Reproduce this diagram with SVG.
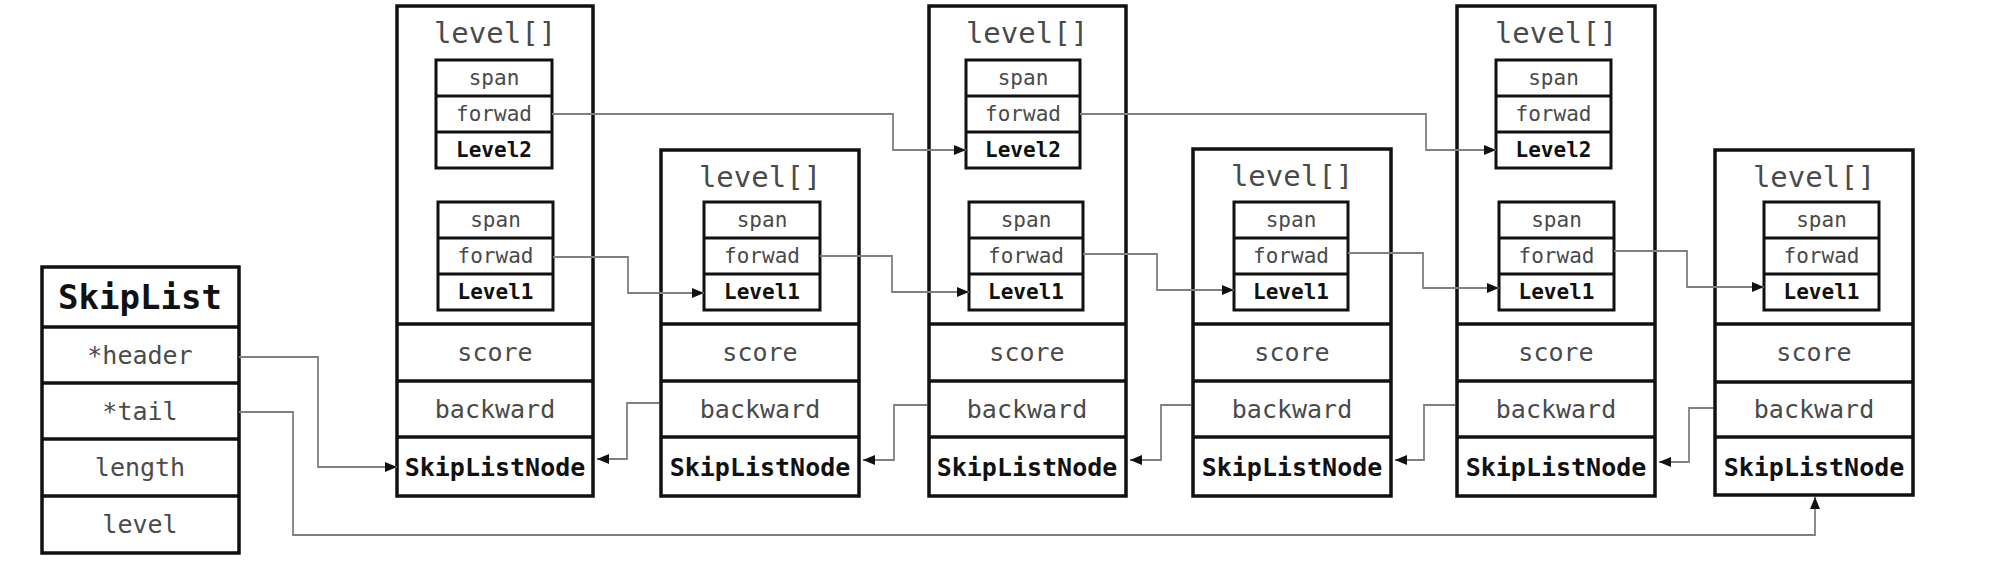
<svg xmlns="http://www.w3.org/2000/svg" width="1989" height="566" viewBox="0 0 1989 566">
<defs>
<style>
.box{fill:#fff;stroke:#111;stroke-width:3.5}
.ln{stroke:#111;stroke-width:3.5}
.ib{fill:none;stroke:#111;stroke-width:3}
.il{stroke:#111;stroke-width:3}
.t{font-family:"DejaVu Sans Mono","Liberation Mono",monospace;fill:#4a4a4a;text-anchor:middle}
.b{font-family:"DejaVu Sans Mono","Liberation Mono",monospace;fill:#111;font-weight:bold;text-anchor:middle}
.lv{font-size:29px}
.row{font-size:25px}
.sm{font-size:21px}
.title{font-size:34px}
.c{fill:none;stroke:#808080;stroke-width:1.8}
</style>
<marker id="ah" viewBox="0 0 12 10" markerWidth="12" markerHeight="10" refX="12" refY="5" orient="auto" markerUnits="userSpaceOnUse">
<path d="M0,0 L12,5 L0,10 z" fill="#111"/>
</marker>
</defs>
<rect width="1989" height="566" fill="#fff"/>

<g id="skiplist">
<rect class="box" x="42" y="267" width="197" height="286"/>
<line class="ln" x1="42" y1="327" x2="239" y2="327"/>
<line class="ln" x1="42" y1="383" x2="239" y2="383"/>
<line class="ln" x1="42" y1="439" x2="239" y2="439"/>
<line class="ln" x1="42" y1="496" x2="239" y2="496"/>
<text class="b title" x="140" y="309">SkipList</text>
<text class="t row" x="140" y="364">*header</text>
<text class="t row" x="140" y="420">*tail</text>
<text class="t row" x="140" y="476">length</text>
<text class="t row" x="140" y="533">level</text>
</g>

<g id="node1">
<rect class="box" x="397" y="6" width="196" height="490"/>
<line class="ln" x1="397" y1="324" x2="593" y2="324"/>
<line class="ln" x1="397" y1="381" x2="593" y2="381"/>
<line class="ln" x1="397" y1="437" x2="593" y2="437"/>
<text class="t lv" x="495" y="43">level[]</text>
<rect class="ib" x="436" y="60" width="116" height="108"/>
<line class="il" x1="436" y1="96" x2="552" y2="96"/>
<line class="il" x1="436" y1="132" x2="552" y2="132"/>
<text class="t sm" x="494" y="85">span</text>
<text class="t sm" x="494" y="121">forwad</text>
<text class="b sm" x="494" y="157">Level2</text>
<rect class="ib" x="438" y="202" width="115" height="108"/>
<line class="il" x1="438" y1="238" x2="553" y2="238"/>
<line class="il" x1="438" y1="274" x2="553" y2="274"/>
<text class="t sm" x="495.5" y="227">span</text>
<text class="t sm" x="495.5" y="263">forwad</text>
<text class="b sm" x="495.5" y="299">Level1</text>
<text class="t row" x="495" y="361">score</text>
<text class="t row" x="495" y="418">backward</text>
<text class="b row" x="495" y="476">SkipListNode</text>
</g>

<g id="node2">
<rect class="box" x="661" y="150" width="198" height="346"/>
<line class="ln" x1="661" y1="324" x2="859" y2="324"/>
<line class="ln" x1="661" y1="381" x2="859" y2="381"/>
<line class="ln" x1="661" y1="437" x2="859" y2="437"/>
<text class="t lv" x="760" y="187">level[]</text>
<rect class="ib" x="704" y="202" width="116" height="108"/>
<line class="il" x1="704" y1="238" x2="820" y2="238"/>
<line class="il" x1="704" y1="274" x2="820" y2="274"/>
<text class="t sm" x="762" y="227">span</text>
<text class="t sm" x="762" y="263">forwad</text>
<text class="b sm" x="762" y="299">Level1</text>
<text class="t row" x="760" y="361">score</text>
<text class="t row" x="760" y="418">backward</text>
<text class="b row" x="760" y="476">SkipListNode</text>
</g>

<g id="node3">
<rect class="box" x="929" y="6" width="197" height="490"/>
<line class="ln" x1="929" y1="324" x2="1126" y2="324"/>
<line class="ln" x1="929" y1="381" x2="1126" y2="381"/>
<line class="ln" x1="929" y1="437" x2="1126" y2="437"/>
<text class="t lv" x="1027" y="43">level[]</text>
<rect class="ib" x="966" y="60" width="114" height="108"/>
<line class="il" x1="966" y1="96" x2="1080" y2="96"/>
<line class="il" x1="966" y1="132" x2="1080" y2="132"/>
<text class="t sm" x="1023" y="85">span</text>
<text class="t sm" x="1023" y="121">forwad</text>
<text class="b sm" x="1023" y="157">Level2</text>
<rect class="ib" x="969" y="202" width="114" height="108"/>
<line class="il" x1="969" y1="238" x2="1083" y2="238"/>
<line class="il" x1="969" y1="274" x2="1083" y2="274"/>
<text class="t sm" x="1026" y="227">span</text>
<text class="t sm" x="1026" y="263">forwad</text>
<text class="b sm" x="1026" y="299">Level1</text>
<text class="t row" x="1027" y="361">score</text>
<text class="t row" x="1027" y="418">backward</text>
<text class="b row" x="1027" y="476">SkipListNode</text>
</g>

<g id="node4">
<rect class="box" x="1193" y="149" width="198" height="347"/>
<line class="ln" x1="1193" y1="324" x2="1391" y2="324"/>
<line class="ln" x1="1193" y1="381" x2="1391" y2="381"/>
<line class="ln" x1="1193" y1="437" x2="1391" y2="437"/>
<text class="t lv" x="1292" y="186">level[]</text>
<rect class="ib" x="1234" y="202" width="114" height="108"/>
<line class="il" x1="1234" y1="238" x2="1348" y2="238"/>
<line class="il" x1="1234" y1="274" x2="1348" y2="274"/>
<text class="t sm" x="1291" y="227">span</text>
<text class="t sm" x="1291" y="263">forwad</text>
<text class="b sm" x="1291" y="299">Level1</text>
<text class="t row" x="1292" y="361">score</text>
<text class="t row" x="1292" y="418">backward</text>
<text class="b row" x="1292" y="476">SkipListNode</text>
</g>

<g id="node5">
<rect class="box" x="1457" y="6" width="198" height="490"/>
<line class="ln" x1="1457" y1="324" x2="1655" y2="324"/>
<line class="ln" x1="1457" y1="381" x2="1655" y2="381"/>
<line class="ln" x1="1457" y1="437" x2="1655" y2="437"/>
<text class="t lv" x="1556" y="43">level[]</text>
<rect class="ib" x="1496" y="60" width="115" height="108"/>
<line class="il" x1="1496" y1="96" x2="1611" y2="96"/>
<line class="il" x1="1496" y1="132" x2="1611" y2="132"/>
<text class="t sm" x="1553.5" y="85">span</text>
<text class="t sm" x="1553.5" y="121">forwad</text>
<text class="b sm" x="1553.5" y="157">Level2</text>
<rect class="ib" x="1499" y="202" width="115" height="108"/>
<line class="il" x1="1499" y1="238" x2="1614" y2="238"/>
<line class="il" x1="1499" y1="274" x2="1614" y2="274"/>
<text class="t sm" x="1556.5" y="227">span</text>
<text class="t sm" x="1556.5" y="263">forwad</text>
<text class="b sm" x="1556.5" y="299">Level1</text>
<text class="t row" x="1556" y="361">score</text>
<text class="t row" x="1556" y="418">backward</text>
<text class="b row" x="1556" y="476">SkipListNode</text>
</g>

<g id="node6">
<rect class="box" x="1715" y="150" width="198" height="345"/>
<line class="ln" x1="1715" y1="324" x2="1913" y2="324"/>
<line class="ln" x1="1715" y1="382" x2="1913" y2="382"/>
<line class="ln" x1="1715" y1="437" x2="1913" y2="437"/>
<text class="t lv" x="1814" y="187">level[]</text>
<rect class="ib" x="1764" y="202" width="115" height="108"/>
<line class="il" x1="1764" y1="238" x2="1879" y2="238"/>
<line class="il" x1="1764" y1="274" x2="1879" y2="274"/>
<text class="t sm" x="1821.5" y="227">span</text>
<text class="t sm" x="1821.5" y="263">forwad</text>
<text class="b sm" x="1821.5" y="299">Level1</text>
<text class="t row" x="1814" y="361">score</text>
<text class="t row" x="1814" y="418">backward</text>
<text class="b row" x="1814" y="476">SkipListNode</text>
</g>

<g id="connectors">
<path class="c" d="M239,357 H318 V467 H397" marker-end="url(#ah)"/>
<path class="c" d="M239,412 H293 V535 H1815 V497" marker-end="url(#ah)"/>
<path class="c" d="M552,114 H893 V150 H966" marker-end="url(#ah)"/>
<path class="c" d="M1080,114 H1426 V150 H1496" marker-end="url(#ah)"/>
<path class="c" d="M553,257 H628 V293 H704" marker-end="url(#ah)"/>
<path class="c" d="M820,256 H892 V292 H969" marker-end="url(#ah)"/>
<path class="c" d="M1083,254 H1157 V290 H1234" marker-end="url(#ah)"/>
<path class="c" d="M1348,253 H1423 V288 H1499" marker-end="url(#ah)"/>
<path class="c" d="M1614,251 H1687 V287 H1764" marker-end="url(#ah)"/>
<path class="c" d="M659,403 H627 V459 H597" marker-end="url(#ah)"/>
<path class="c" d="M927,405 H894 V460 H863" marker-end="url(#ah)"/>
<path class="c" d="M1191,405 H1161 V460 H1130" marker-end="url(#ah)"/>
<path class="c" d="M1455,405 H1424 V460 H1395" marker-end="url(#ah)"/>
<path class="c" d="M1713,408 H1689 V462 H1659" marker-end="url(#ah)"/>
</g>
</svg>
